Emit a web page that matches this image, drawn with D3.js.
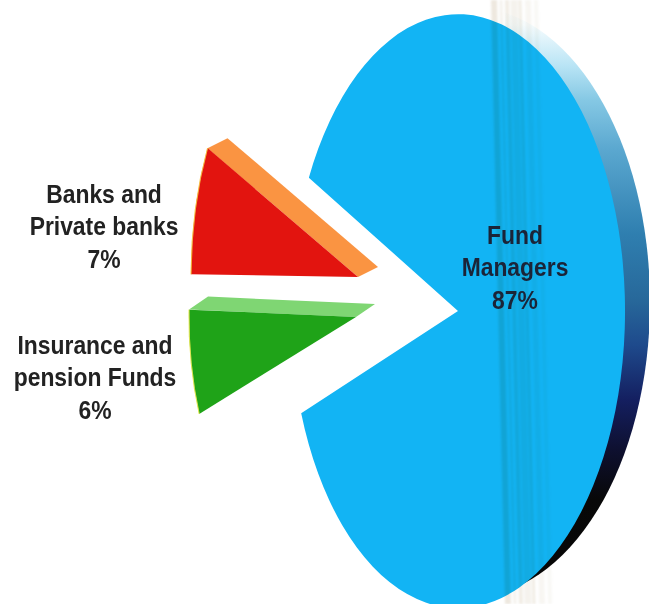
<!DOCTYPE html>
<html><head><meta charset="utf-8">
<script src="https://cdn.jsdelivr.net/npm/d3@7"></script>
<style>html,body{margin:0;padding:0;background:#fff}svg{display:block}
text{font-family:"Liberation Sans",Arial,sans-serif;font-weight:700}</style>
</head><body>
<script>
const categories = ["Fund Managers", "Insurance and pension Funds", "Banks and Private banks"];
const shares = [87, 6, 7];
const faceColors = ["#12b4f4", "#1fa318", "#e2140f"];
const sideColors = [null, "#7fd673", "#fa9442"];
const labelLines = [["Fund","Managers","87%"],["Insurance and","pension Funds","6%"],["Banks and","Private banks","7%"]];
const labelColors = ["#1b2438", "#222222", "#222222"];

const W = 649, H = 604;
const svg = d3.select("body").append("svg").attr("width", W).attr("height", H);
const defs = svg.append("defs");

const toRad = Math.PI / 180;
const start = 296.7 * toRad;
const arcs = d3.pie().sort(null).value(d => d).startAngle(start).endAngle(start + 2 * Math.PI)(shares);
const arc = d3.arc().innerRadius(0).outerRadius(1);
const rim1 = d3.arc().innerRadius(1).outerRadius(1);

const faceOrigins = [[458, 311], [356, 317], [358, 277]];
const faceRadii = [[167, 297], [167, 282], [167, 297]];
const faceTurn = [0, 0, -1];
const sideOffsets = [null, [19, -13], [20, -10]];
const edgeColors = [null, "#e9e84a", "#f7c53a"];
const labelAnchors = [[515, 244], [95, 354], [104, 203]];
const lineGap = 32.3;
const streaks = [[494,6,.32],[501,3,.18],[507,4,.26],[514,7,.18],[520,3,.26],[528,6,.13],[536,4,.1]];

// Rim of the big slice
const rimStops = [[0,"#ffffff"],[0.03,"#f6fcfe"],[0.10,"#b8e4f5"],[0.158,"#85c8e4"],[0.24,"#5ba8d0"],[0.383,"#2f7fb0"],[0.497,"#27689a"],[0.573,"#1e4a8c"],[0.666,"#141f60"],[0.75,"#0e1030"],[0.835,"#080808"],[1,"#060606"]];
const rimGrad = defs.append("linearGradient").attr("id","rim").attr("x1",0).attr("x2",0).attr("y1",0).attr("y2",1);
rimGrad.selectAll("stop").data(rimStops).join("stop").attr("offset",d=>d[0]).attr("stop-color",d=>d[1]);
defs.append("clipPath").attr("id","rimClip").append("rect").attr("x",505).attr("y",0).attr("width",W-505).attr("height",H);
defs.append("filter").attr("id","soft").attr("filterUnits","userSpaceOnUse").attr("x",0).attr("y",0).attr("width",W).attr("height",H)
  .append("feGaussianBlur").attr("stdDeviation",1);
svg.append("ellipse").attr("cx",470).attr("cy",302).attr("rx",180).attr("ry",295)
  .attr("fill","url(#rim)").attr("clip-path","url(#rimClip)");

// Top faces of the pulled slices
arcs.forEach((a,i)=>{
  if(!sideOffsets[i]) return;
  const f = faceOrigins[i], s = sideOffsets[i], r = faceRadii[i];
  const e = d3.pointRadial(a.endAngle + faceTurn[i]*toRad,1);
  const P = [[0,0],e].map(p=>[f[0]+p[0]*r[0], f[1]+p[1]*r[1]]);
  const q = [P[0],P[1],[P[1][0]+s[0],P[1][1]+s[1]],[P[0][0]+s[0],P[0][1]+s[1]]];
  svg.append("path").attr("d",d3.line()(q)+"Z").attr("fill",sideColors[i]);
});

const turned = (d,i)=>({startAngle:d.startAngle+faceTurn[i]*toRad,endAngle:d.endAngle+faceTurn[i]*toRad});
const place = (d,i)=>`translate(${faceOrigins[i][0]},${faceOrigins[i][1]}) scale(${faceRadii[i][0]},${faceRadii[i][1]})`;

// Faces
svg.selectAll("path.face").data(arcs).join("path").attr("class","face")
  .attr("d",(d,i)=>arc(turned(d,i))).attr("transform",place).attr("fill",(d,i)=>faceColors[i]);

// Thin bright edge on the pulled slices
svg.selectAll("path.edge").data(arcs.slice(1)).join("path").attr("class","edge")
  .attr("d",(d,i)=>rim1(turned(d,i+1))).attr("transform",(d,i)=>place(d,i+1))
  .attr("fill","none").attr("stroke",(d,i)=>edgeColors[i+1]).attr("stroke-width",1).attr("stroke-opacity",.6).attr("vector-effect","non-scaling-stroke");

// Vertical scan streaks (multiply: beige on white, darker on blue)
const streakLayer = svg.append("g").attr("filter","url(#soft)").style("mix-blend-mode","multiply");
streakLayer.selectAll("line.streak").data(streaks).join("line").attr("class","streak")
  .attr("x1",d=>d[0]).attr("x2",d=>d[0]+14).attr("y1",0).attr("y2",H)
  .attr("stroke","#c9b89a").attr("stroke-width",d=>d[1]).attr("stroke-opacity",d=>d[2]);

// Labels
labelLines.forEach((lines,i)=>{
  const a = labelAnchors[i];
  const t = svg.append("text").attr("text-anchor","middle").attr("fill",labelColors[i]).attr("font-size",25)
    .attr("transform",`translate(${a[0]},${a[1]}) scale(0.915,1)`);
  lines.forEach((l,k)=>t.append("tspan").attr("x",0).attr("y",k*lineGap).text(l));
});
</script>
</body></html>
